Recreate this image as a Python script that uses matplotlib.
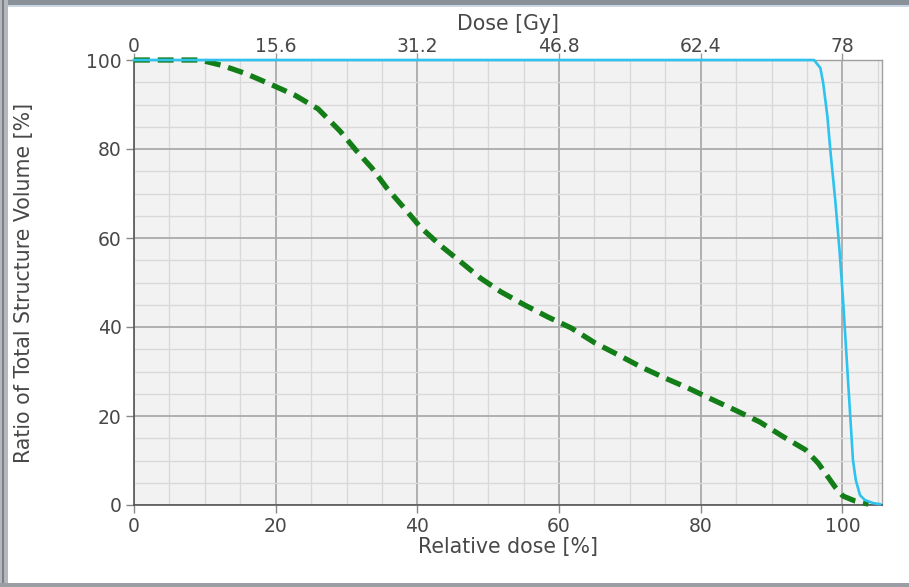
import matplotlib
matplotlib.use("Agg")
import matplotlib.pyplot as plt
from matplotlib.patches import Rectangle
from matplotlib.ticker import MultipleLocator

# Dose-volume histogram: relative dose [%] vs. ratio of structure volume [%]
organ_dose = [0, 9.3, 12.4, 15.7, 19.2, 22.7, 26.0, 29.1, 31.4, 33.6, 35.7,
              38.0, 40.4, 43.2, 46.0, 48.9, 51.8, 55.2, 58.5, 61.7, 65.1,
              68.4, 71.6, 75.0, 78.2, 81.5, 84.9, 88.3, 91.5, 94.8, 96.6,
              99.0, 100.1, 101.8, 103.7]
organ_volume = [100, 100, 98.8, 97.0, 94.6, 92.1, 89.0, 84.0, 79.6, 75.7, 71.2,
                67.0, 62.5, 58.4, 54.8, 51.0, 47.9, 44.9, 42.2, 39.8, 36.4,
                33.7, 31.0, 28.5, 26.3, 23.8, 21.3, 18.7, 15.5, 12.4, 9.4,
                4.0, 2.0, 0.9, 0.2]

target_dose = [0, 96.0, 96.9, 97.3, 97.9, 98.3, 99.0, 99.6, 100.1, 100.8,
               101.5, 101.9, 102.5, 103.2, 104.4, 105.3]
target_volume = [100, 100, 98.2, 94.8, 87.2, 79.8, 68.5, 57.3, 46.1, 28.1,
                 10.1, 5.6, 2.2, 1.1, 0.4, 0.2]

rel_ticks = [0, 20, 40, 60, 80, 100]
gy_ticks = [0, 15.6, 31.2, 46.8, 62.4, 78]
gy_labels = ["0", "15.6", "31.2", "46.8", "62.4", "78"]
vol_ticks = [0, 20, 40, 60, 80, 100]
prescription_gy = 78.0

W, H = 909, 587
fig = plt.figure(figsize=(W / 100, H / 100), dpi=100)
fig.patch.set_facecolor("white")

# window frame
fig.add_artist(Rectangle((0, 1 - 5 / H), 1, 5 / H, transform=fig.transFigure,
                         facecolor="#8a9098", edgecolor="none"))
fig.add_artist(Rectangle((0, 1 - 7 / H), 1, 2 / H, transform=fig.transFigure,
                         facecolor="#c9d6e3", edgecolor="none"))
fig.add_artist(Rectangle((0, 0), 8 / W, 1, transform=fig.transFigure,
                         facecolor="#b4b8bc", edgecolor="none"))
fig.add_artist(Rectangle((2 / W, 0), 2 / W, 1, transform=fig.transFigure,
                         facecolor="#7c8086", edgecolor="none"))
fig.add_artist(Rectangle((0, 0), 1, 4 / H, transform=fig.transFigure,
                         facecolor="#9a9ea4", edgecolor="none"))

ax = fig.add_axes([134 / W, (H - 505) / H, (882 - 134) / W, (505 - 60) / H])
ax.set_facecolor("#f2f2f2")
ax.set_xlim(0, 105.6)
ax.set_ylim(0, 100)

ax.xaxis.set_major_locator(MultipleLocator(20))
ax.xaxis.set_minor_locator(MultipleLocator(5))
ax.yaxis.set_major_locator(MultipleLocator(20))
ax.yaxis.set_minor_locator(MultipleLocator(5))
ax.set_xticks(rel_ticks)
ax.set_yticks(vol_ticks)
ax.grid(which="major", color="#ababab", linewidth=1.3)
ax.grid(which="minor", color="#d9d9d9", linewidth=1.0)
ax.set_axisbelow(True)

for side in ("left", "bottom"):
    ax.spines[side].set_color("#555555")
    ax.spines[side].set_linewidth(1.2)
for side in ("right", "top"):
    ax.spines[side].set_color("#a0a0a0")
    ax.spines[side].set_linewidth(1.0)

txt = "#484848"
tick_fs = 13.5
label_fs = 14.8
ax.tick_params(which="major", direction="out", length=6, width=1.0,
               color="#888888", labelcolor=txt, labelsize=tick_fs, pad=3)
ax.tick_params(which="minor", length=0)

ax.plot(organ_dose, organ_volume, color="#137d17", linewidth=3.8,
        dashes=(3.0, 1.5), dash_capstyle="butt", clip_on=False, zorder=3)
ax.plot(target_dose, target_volume, color="#2ec3ee", linewidth=1.9,
        clip_on=False, zorder=4)

ax.set_xlabel("Relative dose [%]", fontsize=label_fs, color=txt, labelpad=0)
ax.set_ylabel("Ratio of Total Structure Volume [%]", fontsize=label_fs,
              color=txt, labelpad=37)

top = ax.secondary_xaxis("top", functions=(lambda x: x * prescription_gy / 100,
                                           lambda g: g * 100 / prescription_gy))
top.set_xticks(gy_ticks)
top.set_xticklabels(gy_labels)
top.spines["top"].set_visible(False)
top.tick_params(direction="out", length=5, width=1.0, color="#999999",
                labelcolor=txt, labelsize=tick_fs, pad=-2)
top.set_xlabel("Dose [Gy]", fontsize=label_fs, color=txt, labelpad=5)

fig.savefig("out.png", dpi=100)
